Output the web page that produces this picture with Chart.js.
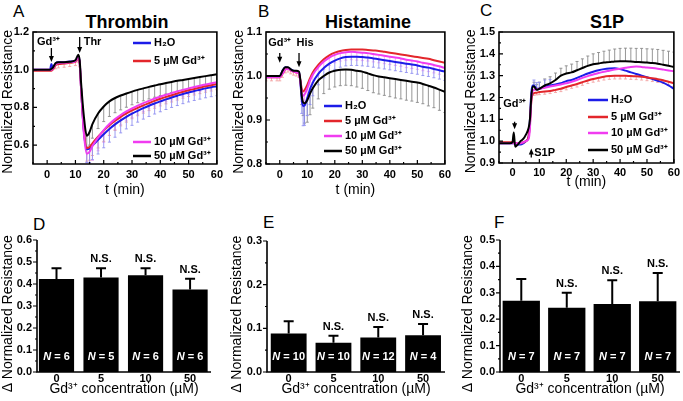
<!DOCTYPE html>
<html>
<head>
<meta charset="utf-8">
<script src="https://cdn.jsdelivr.net/npm/chart.js@4.4.1/dist/chart.umd.min.js"></script>
<style>
  body { margin: 0; width: 683px; height: 401px; background: #fff; position: relative; overflow: hidden;
         font-family: "Liberation Sans", Arial, sans-serif; color: #000; }
  canvas { position: absolute; }
  .letter { position: absolute; font-size: 17px; line-height: 17px; }
  .title { position: absolute; font-size: 18px; line-height: 18px; font-weight: bold; transform: translateX(-50%); white-space: nowrap; }
</style>
</head>
<body>
<div class="letter" style="left:13px;top:3px">A</div>
<div class="letter" style="left:258px;top:3px">B</div>
<div class="letter" style="left:480px;top:2px">C</div>
<div class="letter" style="left:33px;top:216px">D</div>
<div class="letter" style="left:263px;top:214px">E</div>
<div class="letter" style="left:494px;top:214px">F</div>
<div class="title" style="left:127px;top:13px">Thrombin</div>
<div class="title" style="left:368px;top:13px">Histamine</div>
<div class="title" style="left:607px;top:13px">S1P</div>

<canvas id="cA" width="227" height="200" style="left:0;top:0"></canvas>
<canvas id="cB" width="228" height="200" style="left:227px;top:0"></canvas>
<canvas id="cC" width="228" height="200" style="left:455px;top:0"></canvas>
<canvas id="cD" width="227" height="201" style="left:0;top:200px"></canvas>
<canvas id="cE" width="228" height="201" style="left:227px;top:200px"></canvas>
<canvas id="cF" width="228" height="201" style="left:455px;top:200px"></canvas>

<script>
// ---------- data ----------
const seriesNames = ['H₂O', '5 µM Gd³⁺', '10 µM Gd³⁺', '50 µM Gd³⁺'];

// A: Thrombin
const tA = [-5,-3,-1,0,1,1.5,2,3,4,6,8,10,11,11.5,12,13,14,15,16,18,20,22,24,26,28,30,32,34,36,38,40,42,44,46,48,50,52,54,56,58,60];
const blueA = [1.0,1.0,1.0,1.0,1.0,1.03,1.01,1.035,1.04,1.04,1.043,1.048,1.07,1.04,0.9,0.67,0.578,0.582,0.598,0.628,0.658,0.686,0.71,0.731,0.75,0.767,0.782,0.796,0.809,0.821,0.832,0.843,0.853,0.862,0.871,0.879,0.887,0.894,0.901,0.907,0.912];
const redA = [0.995,0.995,0.995,0.995,0.995,0.995,1.0,1.025,1.03,1.033,1.037,1.042,1.06,1.035,0.9,0.68,0.585,0.59,0.61,0.645,0.677,0.705,0.729,0.75,0.768,0.784,0.798,0.811,0.823,0.835,0.846,0.856,0.865,0.874,0.883,0.891,0.898,0.905,0.912,0.918,0.924];
const magA = [1.0,1.0,1.0,1.0,1.0,1.0,1.005,1.03,1.035,1.037,1.04,1.045,1.065,1.04,0.9,0.66,0.555,0.565,0.595,0.64,0.68,0.712,0.738,0.76,0.779,0.795,0.81,0.823,0.835,0.847,0.857,0.867,0.876,0.885,0.893,0.901,0.908,0.915,0.922,0.928,0.934];
const blackA = [1.0,1.0,1.0,1.0,1.0,1.005,1.01,1.035,1.04,1.04,1.042,1.05,1.08,1.05,0.93,0.75,0.65,0.67,0.712,0.768,0.805,0.832,0.85,0.863,0.874,0.884,0.893,0.901,0.909,0.916,0.923,0.929,0.935,0.941,0.946,0.951,0.956,0.961,0.966,0.971,0.976];
const errBlueA = [null,null,null,null,null,null,null,null,null,null,null,null,null,null,null,null,
  0.07,0.075,0.075,0.075,0.072,0.07,0.068,0.066,0.064,0.062,0.06,0.058,0.057,0.056,0.055,0.054,0.053,0.052,0.051,0.05,0.05,0.05,0.05,0.05,0.05];
const errRedA = [null,null,null,null,null,null,null,0.02,0.02,0.02,0.02,0.02,0.02,0.02,null,null,
  0.07,0.07,0.065,0.06,0.057,0.054,0.051,0.048,0.046,0.044,0.042,0.041,0.04,0.039,0.038,0.037,0.036,0.035,0.034,0.033,0.032,0.032,0.031,0.031,0.03];
const errMagA = [null,null,null,null,null,null,null,null,null,null,null,null,null,null,null,null,
  0.08,0.08,0.075,0.07,0.065,0.06,0.056,0.052,0.05,0.048,0.046,0.044,0.042,0.04,0.038,0.037,0.036,0.035,0.034,0.033,0.032,0.031,0.03,0.03,0.03];
const errBlackA = [null,null,null,null,null,null,null,null,null,null,null,null,null,null,null,null,
  0.06,0.07,0.075,0.08,0.08,0.08,0.078,0.076,0.073,0.07,0.068,0.066,0.064,0.062,0.06,0.058,0.056,0.055,0.053,0.052,0.05,0.049,0.048,0.047,0.046];

// B: Histamine
const tB = [-5,-3,-1,0,1,2,3,4,5,6,7,7.5,8,8.5,9,10,11,12,14,16,18,20,22,24,26,28,30,32,34,36,38,40,42,44,46,48,50,52,54,56,58,60];
const blueB = [1.0,1.0,1.0,1.0,1.012,1.02,1.019,1.015,1.012,1.01,1.008,0.985,0.945,0.932,0.933,0.95,0.97,0.985,1.005,1.018,1.028,1.035,1.04,1.043,1.044,1.044,1.043,1.042,1.04,1.038,1.036,1.034,1.032,1.03,1.028,1.026,1.024,1.021,1.019,1.016,1.013,1.01];
const redB = [0.997,0.997,0.997,0.997,1.005,1.015,1.017,1.013,1.01,1.008,1.005,0.99,0.97,0.965,0.968,0.98,0.995,1.008,1.025,1.038,1.047,1.053,1.057,1.059,1.06,1.06,1.06,1.059,1.058,1.057,1.055,1.053,1.051,1.049,1.047,1.045,1.043,1.041,1.039,1.036,1.033,1.03];
const magB = [0.997,0.997,0.997,0.997,1.005,1.015,1.016,1.013,1.01,1.008,1.005,0.985,0.962,0.955,0.958,0.972,0.99,1.003,1.02,1.033,1.042,1.048,1.052,1.054,1.055,1.054,1.053,1.052,1.05,1.048,1.046,1.044,1.042,1.04,1.037,1.035,1.033,1.03,1.028,1.025,1.022,1.018];
const blackB = [1.0,1.0,1.0,1.0,1.012,1.02,1.02,1.015,1.012,1.012,1.01,0.99,0.955,0.94,0.938,0.945,0.96,0.972,0.99,1.0,1.008,1.012,1.014,1.015,1.014,1.012,1.01,1.006,1.002,0.999,0.997,0.995,0.993,0.991,0.989,0.987,0.985,0.982,0.978,0.974,0.969,0.964];
const errBlueB = [null,null,null,null,null,null,null,null,null,null,null,null,
  0.03,0.045,0.045,0.04,0.035,0.03,0.025,0.022,0.02,0.02,0.02,0.02,0.02,0.02,0.02,0.02,0.02,0.02,0.02,0.02,0.02,0.02,0.02,0.02,0.02,0.02,0.02,0.02,0.02,0.02];
const errRedB = [0.008,0.008,0.008,0.008,0.008,0.008,0.008,0.008,0.008,0.008,0.008,null,
  null,null,null,null,null,null,null,null,null,null,null,null,null,null,null,null,null,null,null,null,null,null,null,null,null,null,null,null,null,null];
const errMagB = [null,null,null,null,null,null,null,null,null,null,null,null,
  0.02,0.025,0.025,0.022,0.02,0.018,0.018,0.018,0.018,0.018,0.018,0.018,0.018,0.018,0.018,0.018,0.018,0.018,0.018,0.018,0.018,0.018,0.018,0.018,0.018,0.018,0.018,0.018,0.018,0.018];
const errBlackB = [null,null,null,null,null,null,null,null,null,null,null,null,
  0.02,0.03,0.045,0.05,0.048,0.045,0.042,0.04,0.038,0.037,0.036,0.036,0.036,0.037,0.038,0.039,0.04,0.04,0.041,0.042,0.043,0.043,0.044,0.044,0.045,0.045,0.046,0.046,0.047,0.047];

// C: S1P
const tC = [-5,-3,-1,0,0.5,1,2,3,4,5,6,6.5,7,7.5,8,9,10,12,14,16,18,20,22,24,26,28,30,32,34,36,38,40,42,44,46,48,50,52,54,56,58,60];
const blueC = [0.99,0.99,0.99,0.99,0.99,0.99,0.985,0.985,0.99,1.0,1.02,1.1,1.22,1.255,1.255,1.24,1.24,1.25,1.255,1.26,1.265,1.275,1.28,1.29,1.3,1.31,1.318,1.325,1.33,1.333,1.334,1.33,1.323,1.315,1.308,1.3,1.293,1.285,1.277,1.268,1.255,1.24];
const redC = [0.995,0.995,0.995,0.995,0.995,0.99,0.99,0.99,0.995,1.0,1.02,1.08,1.18,1.215,1.22,1.222,1.225,1.227,1.23,1.235,1.24,1.248,1.255,1.262,1.27,1.278,1.285,1.29,1.295,1.298,1.3,1.3,1.3,1.298,1.297,1.295,1.292,1.288,1.284,1.279,1.272,1.265];
const magC = [0.99,0.99,0.99,0.99,0.99,0.99,0.99,0.99,0.995,1.0,1.01,1.06,1.19,1.23,1.235,1.237,1.24,1.245,1.25,1.255,1.26,1.265,1.272,1.28,1.29,1.298,1.305,1.312,1.318,1.323,1.328,1.332,1.336,1.34,1.342,1.34,1.337,1.335,1.332,1.328,1.324,1.32];
const blackC = [0.99,0.99,0.99,0.995,1.04,0.975,0.985,1.0,1.01,1.03,1.06,1.1,1.2,1.25,1.25,1.235,1.24,1.255,1.265,1.28,1.3,1.31,1.315,1.325,1.335,1.345,1.352,1.356,1.36,1.362,1.365,1.366,1.366,1.365,1.363,1.362,1.36,1.358,1.355,1.35,1.345,1.34];
const errBlueC = [null,null,null,null,null,null,null,null,null,null,null,null,null,null,
  0.025,0.028,0.03,0.03,0.028,null,null,null,null,null,null,null,null,null,null,null,null,null,null,null,null,null,null,null,null,null,null,null];
const errRedC = [null,null,null,null,null,null,null,null,null,null,null,null,null,null,
  0.01,0.01,0.012,0.012,0.012,0.012,0.013,0.013,0.013,0.014,0.014,0.014,0.015,0.015,0.015,0.015,0.015,0.015,0.015,0.015,0.015,0.015,0.015,0.015,0.015,0.015,0.015,0.015];
const errBlackC = [null,null,null,null,null,null,null,null,null,null,null,null,null,null,
  0.02,0.025,0.03,0.03,0.03,0.032,0.034,0.035,0.038,0.04,0.042,0.045,0.048,0.05,0.052,0.055,0.057,0.059,0.06,0.061,0.062,0.063,0.063,0.064,0.065,0.066,0.067,0.068];

// D-F: bar summaries
const concLabels = ['0', '5', '10', '50'];
const barD = [0.423, 0.43, 0.44, 0.375];
const errD = [0.049, 0.042, 0.032, 0.049];
const nD = [6, 5, 6, 6];
const barE = [0.088, 0.067, 0.079, 0.084];
const errE = [0.028, 0.016, 0.024, 0.026];
const nE = [10, 10, 12, 4];
const barF = [0.27, 0.243, 0.258, 0.268];
const errF = [0.082, 0.057, 0.09, 0.107];
const nF = [7, 7, 7, 7];
const nsMarks = [false, true, true, true];

// tick labels
const tTicks = [0, 10, 20, 30, 40, 50, 60];
const yTicksA = [0.6, 0.8, 1.0, 1.2];
const yTicksB = [0.8, 0.9, 1.0, 1.1];
const yTicksC = [0.9, 1.0, 1.1, 1.2, 1.3, 1.4, 1.5];
const yTicksD = [0, 0.1, 0.2, 0.3, 0.4, 0.5, 0.6];
const yTicksE = [0, 0.1, 0.2, 0.3];
const yTicksF = [0, 0.1, 0.2, 0.3, 0.4, 0.5];

// ---------- styling ----------
const FAM = '"Liberation Sans", Arial, sans-serif';
Chart.defaults.font.family = FAM;
Chart.defaults.color = '#000';
const lineColors = ['#1c1ce8', '#e3262b', '#f03cf0', '#000000'];
const errColors = ['#9090f0', '#f3a3a3', '#f4a4f4', '#8a8a8a'];
const tickFont = { size: 11, weight: 'bold' };
const axisFont = { size: 14 };
const NB = '\u00a0';

function mids(list) {
  const out = [];
  for (let i = 0; i < list.length - 1; i++) out.push((list[i] + list[i + 1]) / 2);
  return out;
}

// box / axis lines and inward or outward tick marks
const frame = {
  id: 'frame',
  afterDraw(chart, args, o) {
    const { ctx, chartArea: a } = chart;
    const xs = chart.scales.x, ys = chart.scales.y;
    ctx.save();
    ctx.strokeStyle = '#000';
    ctx.lineWidth = 1.6;
    ctx.beginPath();
    if (o.box) {
      ctx.rect(a.left, a.top, a.right - a.left, a.bottom - a.top);
    } else {
      ctx.moveTo(a.left, a.top);
      ctx.lineTo(a.left, a.bottom);
      ctx.lineTo(a.right, a.bottom);
    }
    ctx.stroke();
    const s = o.box ? 1 : -1;
    ctx.lineWidth = 1.2;
    ctx.beginPath();
    (o.yMajor || []).forEach(v => { const p = ys.getPixelForValue(v); ctx.moveTo(a.left, p); ctx.lineTo(a.left + s * 4, p); });
    (o.yMinor || []).forEach(v => { const p = ys.getPixelForValue(v); ctx.moveTo(a.left, p); ctx.lineTo(a.left + s * 2, p); });
    (o.xMajor || []).forEach(v => { const p = xs.getPixelForValue(v); ctx.moveTo(p, a.bottom); ctx.lineTo(p, a.bottom - s * 4); });
    (o.xMinor || []).forEach(v => { const p = xs.getPixelForValue(v); ctx.moveTo(p, a.bottom); ctx.lineTo(p, a.bottom - s * 2); });
    ctx.stroke();
    ctx.restore();
  }
};

// one-sided error bars on the time courses
const errBars = {
  id: 'errBars',
  beforeDatasetsDraw(chart) {
    const { ctx, chartArea: a } = chart;
    const xs = chart.scales.x, ys = chart.scales.y;
    ctx.save();
    ctx.beginPath();
    ctx.rect(a.left, a.top, a.right - a.left, a.bottom - a.top);
    ctx.clip();
    ctx.lineWidth = 0.9;
    chart.data.datasets.forEach(ds => {
      if (!ds.errors) return;
      ctx.strokeStyle = ds.errColor;
      ctx.beginPath();
      ds.data.forEach((p, i) => {
        const e = ds.errors[i];
        if (e == null) return;
        const px = xs.getPixelForValue(p.x);
        const y0 = ys.getPixelForValue(p.y);
        const y1 = ys.getPixelForValue(p.y + ds.errDir * e);
        ctx.moveTo(px, y0); ctx.lineTo(px, y1);
        ctx.moveTo(px - 1.5, y1); ctx.lineTo(px + 1.5, y1);
      });
      ctx.stroke();
    });
    ctx.restore();
  }
};

// legend entries and stimulus arrows
const notes = {
  id: 'notes',
  afterDraw(chart, args, o) {
    const { ctx } = chart;
    const xs = chart.scales.x, ys = chart.scales.y;
    ctx.save();
    ctx.font = 'bold 11px ' + FAM;
    ctx.textBaseline = 'middle';
    (o.legend || []).forEach(it => {
      ctx.strokeStyle = lineColors[it.i];
      ctx.lineWidth = 2.5;
      ctx.beginPath(); ctx.moveTo(o.lx0, it.y); ctx.lineTo(o.lx1, it.y); ctx.stroke();
      ctx.fillStyle = '#000';
      ctx.textAlign = 'left';
      ctx.fillText(seriesNames[it.i], o.lx1 + 3, it.y);
    });
    (o.arrows || []).forEach(ar => {
      const px = xs.getPixelForValue(ar.t);
      const p0 = ys.getPixelForValue(ar.from), p1 = ys.getPixelForValue(ar.to);
      const d = p1 > p0 ? 1 : -1;
      ctx.strokeStyle = '#000'; ctx.fillStyle = '#000'; ctx.lineWidth = 1.3;
      ctx.beginPath(); ctx.moveTo(px, p0); ctx.lineTo(px, p1 - d * 4); ctx.stroke();
      ctx.beginPath(); ctx.moveTo(px - 2.5, p1 - d * 6); ctx.lineTo(px + 2.5, p1 - d * 6); ctx.lineTo(px, p1); ctx.closePath(); ctx.fill();
      ctx.textAlign = ar.align || 'center';
      ctx.fillText(ar.label, px + (ar.dx || 0), ys.getPixelForValue(ar.ly));
    });
    ctx.restore();
  }
};

// bar error bars, N counts and N.S. marks
const barDeco = {
  id: 'barDeco',
  afterDatasetsDraw(chart) {
    const { ctx } = chart;
    const ys = chart.scales.y;
    const ds = chart.data.datasets[0];
    const meta = chart.getDatasetMeta(0);
    ctx.save();
    meta.data.forEach((bar, i) => {
      const top = ys.getPixelForValue(ds.values[i] + ds.errs[i]);
      ctx.strokeStyle = '#000'; ctx.lineWidth = 2;
      ctx.beginPath();
      ctx.moveTo(bar.x, bar.y); ctx.lineTo(bar.x, top);
      ctx.moveTo(bar.x - 5, top); ctx.lineTo(bar.x + 5, top);
      ctx.stroke();
      ctx.textBaseline = 'middle';
      const yN = ys.bottom - 15;
      ctx.font = 'bold italic 11px ' + FAM;
      const w1 = ctx.measureText('N').width;
      ctx.font = 'bold 11px ' + FAM;
      const rest = ' = ' + ds.counts[i];
      const w2 = ctx.measureText(rest).width;
      const x0 = bar.x - (w1 + w2) / 2;
      ctx.fillStyle = '#fff';
      ctx.textAlign = 'left';
      ctx.font = 'bold italic 11px ' + FAM;
      ctx.fillText('N', x0, yN);
      ctx.font = 'bold 11px ' + FAM;
      ctx.fillText(rest, x0 + w1, yN);
      if (ds.ns[i]) {
        ctx.fillStyle = '#000';
        ctx.textAlign = 'center';
        ctx.fillText('N.S.', bar.x, top - 9);
      }
    });
    ctx.restore();
  }
};

function lineSets(t, series, errs, dirs) {
  // drawn so that the 50 µM trace lies on top
  return [3, 2, 1, 0].map(k => ({
    data: t.map((x, i) => ({ x: x, y: series[k][i] })),
    borderColor: lineColors[k],
    borderWidth: 2,
    pointRadius: 0,
    cubicInterpolationMode: 'monotone',
    errors: errs[k],
    errDir: dirs[k],
    errColor: errColors[k]
  }));
}

function lineChart(id, cfg) {
  return new Chart(document.getElementById(id), {
    type: 'line',
    data: { datasets: lineSets(cfg.t, cfg.series, cfg.errs, cfg.dirs) },
    options: {
      responsive: false,
      animation: false,
      layout: { autoPadding: false, padding: { top: cfg.top, right: cfg.right, left: 0, bottom: 0 } },
      plugins: {
        legend: { display: false },
        tooltip: { enabled: false },
        frame: { box: true, yMajor: cfg.yTicks, yMinor: mids(cfg.yTicks), xMajor: tTicks, xMinor: [-5].concat(mids(tTicks)) },
        notes: cfg.notes
      },
      scales: {
        x: {
          type: 'linear', min: -5, max: 60,
          grid: { display: false, drawTicks: false }, border: { display: false },
          afterBuildTicks: s => { s.ticks = tTicks.map(v => ({ value: v })); },
          afterFit: s => { s.height = cfg.xh; },
          ticks: { font: tickFont, color: '#000', padding: cfg.xpad, maxRotation: 0, autoSkip: false, callback: v => String(v) },
          title: { display: true, text: 't (min)', font: axisFont, color: '#000', padding: { top: 0, bottom: cfg.xtpad } }
        },
        y: {
          min: cfg.ymin, max: cfg.ymax,
          grid: { display: false, drawTicks: false }, border: { display: false },
          afterBuildTicks: s => { s.ticks = cfg.yTicks.map(v => ({ value: v })); },
          afterFit: s => { s.width = cfg.left; },
          ticks: { font: tickFont, color: '#000', padding: 4, autoSkip: false, callback: v => v.toFixed(1) },
          title: { display: true, text: 'Normalized Resistance' + NB + NB, font: axisFont, color: '#000', padding: { top: cfg.ytpad, bottom: 0 } }
        }
      }
    },
    plugins: [frame, errBars, notes]
  });
}

function barChart(id, cfg) {
  return new Chart(document.getElementById(id), {
    type: 'bar',
    data: {
      datasets: [{
        data: cfg.values.map((v, i) => ({ x: i, y: v })),
        backgroundColor: '#000',
        barPercentage: cfg.bp,
        categoryPercentage: 1,
        values: cfg.values, errs: cfg.errs, counts: cfg.counts, ns: nsMarks
      }]
    },
    options: {
      responsive: false,
      animation: false,
      layout: { autoPadding: false, padding: { top: cfg.top, right: cfg.right, left: 0, bottom: 0 } },
      plugins: {
        legend: { display: false },
        tooltip: { enabled: false },
        frame: { box: false, yMajor: cfg.yTicks, yMinor: mids(cfg.yTicks) }
      },
      scales: {
        x: {
          type: 'linear', min: cfg.xmin, max: cfg.xmax, offset: false,
          grid: { display: false, drawTicks: false }, border: { display: false },
          afterBuildTicks: s => { s.ticks = concLabels.map((c, i) => ({ value: i })); },
          afterFit: s => { s.height = 29; },
          ticks: { font: tickFont, color: '#000', padding: 0, maxRotation: 0, autoSkip: false, callback: v => concLabels[v] },
          title: { display: true, text: 'Gd³⁺ concentration (µM)', font: axisFont, color: '#000', padding: { top: 0, bottom: 3 } }
        },
        y: {
          min: 0, max: cfg.ymax,
          grid: { display: false, drawTicks: false }, border: { display: false },
          afterBuildTicks: s => { s.ticks = cfg.yTicks.map(v => ({ value: v })); },
          afterFit: s => { s.width = cfg.left; },
          ticks: { font: tickFont, color: '#000', padding: 5, autoSkip: false, callback: v => v.toFixed(1) },
          title: { display: true, text: 'Δ Normalized Resistance' + NB + NB + NB + NB, font: axisFont, color: '#000', padding: { top: cfg.ytpad, bottom: 0 } }
        }
      }
    },
    plugins: [frame, barDeco]
  });
}

lineChart('cA', {
  t: tA, series: [blueA, redA, magA, blackA], errs: [errBlueA, errRedA, errMagA, errBlackA], dirs: [-1, -1, -1, -1],
  ymin: 0.5, ymax: 1.2, yTicks: yTicksA, top: 32, right: 7, left: 33, xh: 36, xpad: 4, xtpad: 1, ytpad: 0,
  notes: {
    lx0: 133, lx1: 151,
    legend: [{ i: 0, y: 43 }, { i: 1, y: 61 }, { i: 2, y: 142 }, { i: 3, y: 156 }],
    arrows: [
      { t: 1.5, from: 1.115, to: 1.041, label: 'Gd³⁺', ly: 1.147, dx: -3 },
      { t: 11.5, from: 1.173, to: 1.089, label: 'Thr', ly: 1.147, dx: 4, align: 'left' }
    ]
  }
});

lineChart('cB', {
  t: tB, series: [blueB, redB, magB, blackB], errs: [errBlueB, errRedB, errMagB, errBlackB], dirs: [-1, -1, -1, -1],
  ymin: 0.8, ymax: 1.1, yTicks: yTicksB, top: 32, right: 10, left: 39, xh: 36, xpad: 4, xtpad: 1, ytpad: 4,
  notes: {
    lx0: 97, lx1: 115,
    legend: [{ i: 0, y: 106 }, { i: 1, y: 121 }, { i: 2, y: 136 }, { i: 3, y: 151 }],
    arrows: [
      { t: 0, from: 1.052, to: 1.03, label: 'Gd³⁺', ly: 1.075, dx: 0 },
      { t: 7, from: 1.052, to: 1.02, label: 'His', ly: 1.075, dx: 6 }
    ]
  }
});

lineChart('cC', {
  t: tC, series: [blueC, redC, magC, blackC], errs: [errBlueC, errRedC, null, errBlackC], dirs: [1, -1, 1, 1],
  ymin: 0.9, ymax: 1.5, yTicks: yTicksC, top: 32, right: 5, left: 44, xh: 37, xpad: 3, xtpad: 9, ytpad: 8,
  notes: {
    lx0: 133, lx1: 153,
    legend: [{ i: 0, y: 100 }, { i: 1, y: 117 }, { i: 2, y: 133 }, { i: 3, y: 150 }],
    arrows: [
      { t: 0.8, from: 1.089, to: 1.055, label: 'Gd³⁺', ly: 1.17, dx: 0 },
      { t: 7, from: 0.925, to: 0.966, label: 'S1P', ly: 0.947, dx: 3, align: 'left' }
    ]
  }
});

barChart('cD', { values: barD, errs: errD, counts: nD, ymax: 0.6, yTicks: yTicksD, top: 40, right: 16, left: 37, xmin: -0.438, xmax: 3.47, bp: 0.79, ytpad: 0 });
barChart('cE', { values: barE, errs: errE, counts: nE, ymax: 0.3, yTicks: yTicksE, top: 41, right: 10, left: 40, xmin: -0.484, xmax: 3.49, bp: 0.8, ytpad: 2 });
barChart('cF', { values: barF, errs: errF, counts: nF, ymax: 0.5, yTicks: yTicksF, top: 40, right: 3, left: 45, xmin: -0.468, xmax: 3.49, bp: 0.82, ytpad: 5 });
</script>
</body>
</html>
